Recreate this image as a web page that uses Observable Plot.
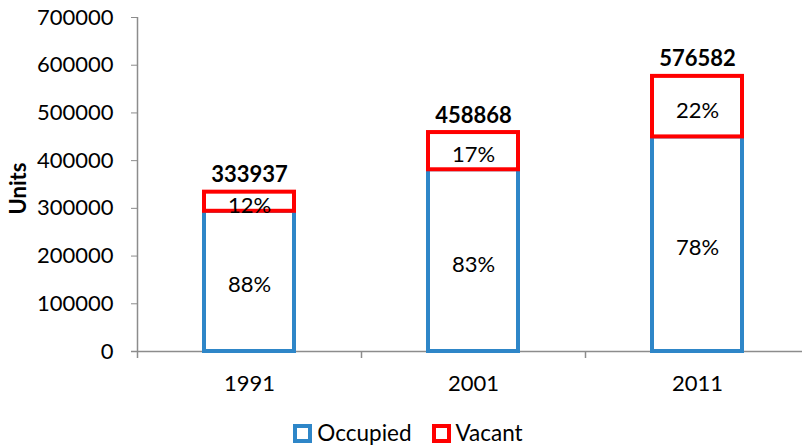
<!DOCTYPE html>
<html>
<head>
<meta charset="utf-8">
<script src="https://cdn.jsdelivr.net/npm/d3@7"></script>
<script src="https://cdn.jsdelivr.net/npm/@observablehq/plot@0.6"></script>
<style>
  html, body { margin: 0; padding: 0; background: #fff; }
  body { width: 802px; height: 447px; overflow: hidden; font-family: Lato, "Open Sans", sans-serif; }
  #chart svg { display: block; }
  .legend { display: flex; justify-content: center; align-items: center; height: 28px; padding-top: 3px; font-size: 22.5px; line-height: 22px; color: #000; padding-left: 14px; }
  .legend .item { display: flex; align-items: center; margin: 0 10px; }
  .legend .sw { width: 11px; height: 11px; border: 4px solid; background: #fff; margin-right: 5px; }
</style>
</head>
<body>
<div id="chart"></div>
<script>
const years = ["1991", "2001", "2011"];
const totals = [333937, 458868, 576582];
const occupiedPct = [88, 83, 78];
const vacantPct = [12, 17, 22];
const statuses = ["Occupied", "Vacant"];
const statusColors = ["#2E86C8", "#FF0000"];
const yTicks = [0, 100000, 200000, 300000, 400000, 500000, 600000, 700000];
const yLabel = "Units";

const rows = [];
statuses.forEach((s) => {
  years.forEach((y, i) => {
    const pct = s === "Occupied" ? occupiedPct[i] : vacantPct[i];
    rows.push({year: y, status: s, pct, units: totals[i] * pct / 100});
  });
});
const totalRows = years.map((y, i) => ({year: y, total: totals[i]}));

const W = 802, H = 416;
const xRange = [137, 809];
const step = (xRange[1] - xRange[0]) / years.length;
const FS = 22;

const chart = Plot.plot({
  width: W,
  height: H,
  marginLeft: 137,
  marginRight: 0,
  marginTop: 17,
  marginBottom: 65,
  style: {fontFamily: "Lato, 'Open Sans', sans-serif", fontSize: FS + "px", color: "#000", background: "#fff"},
  x: {domain: years, range: xRange, paddingInner: 0.6, paddingOuter: 0.3},
  y: {domain: [0, 700000]},
  color: {domain: statuses, range: statusColors},
  marks: [
    Plot.ruleY([0], {stroke: "#8c8c8c", strokeWidth: 1.5, insetLeft: -6}),
    Plot.ruleX([years[0]], {x: (d) => d, dx: -step / 2, stroke: "#8c8c8c", strokeWidth: 1.5, insetBottom: -7}),
    Plot.ruleX(years.slice(1), {x: (d) => d, dx: -step / 2, y1: 0, y2: 0, stroke: "#8c8c8c", strokeWidth: 1.5, insetBottom: -7}),
    Plot.axisY({
      ticks: yTicks,
      tickSize: 6,
      tickPadding: 18,
      tickFormat: (d) => String(d),
      stroke: "#8c8c8c",
      fill: "#000",
      label: null,
      fontSize: FS
    }),
    Plot.text([yLabel], {frameAnchor: "left", textAnchor: "middle", rotate: -90, dx: -119, dy: 4, fontWeight: "bold", fontSize: FS, fill: "#000"}),
    Plot.axisX({tickSize: 0, tickPadding: 24, label: null, fontSize: FS, fill: "#000"}),
    Plot.barY(rows, {x: "year", y: "units", z: "status", stroke: "status", fill: "white", strokeWidth: 4}),
    Plot.text(rows, Plot.stackY({x: "year", y: "units", z: "status", text: (d) => d.pct + "%", dy: 4, fontSize: FS, fill: "#000"})),
    Plot.text(totalRows, {x: "year", y: "total", text: (d) => String(d.total), lineAnchor: "bottom", dy: -10, fontWeight: "bold", fontSize: FS, fill: "#000"})
  ]
});
document.getElementById("chart").appendChild(chart);

const legend = document.createElement("div");
legend.className = "legend";
statuses.forEach((s, i) => {
  const item = document.createElement("div");
  item.className = "item";
  const sw = document.createElement("span");
  sw.className = "sw";
  sw.style.borderColor = statusColors[i];
  const lab = document.createElement("span");
  lab.textContent = s;
  item.appendChild(sw);
  item.appendChild(lab);
  legend.appendChild(item);
});
document.getElementById("chart").appendChild(legend);
</script>
</body>
</html>
